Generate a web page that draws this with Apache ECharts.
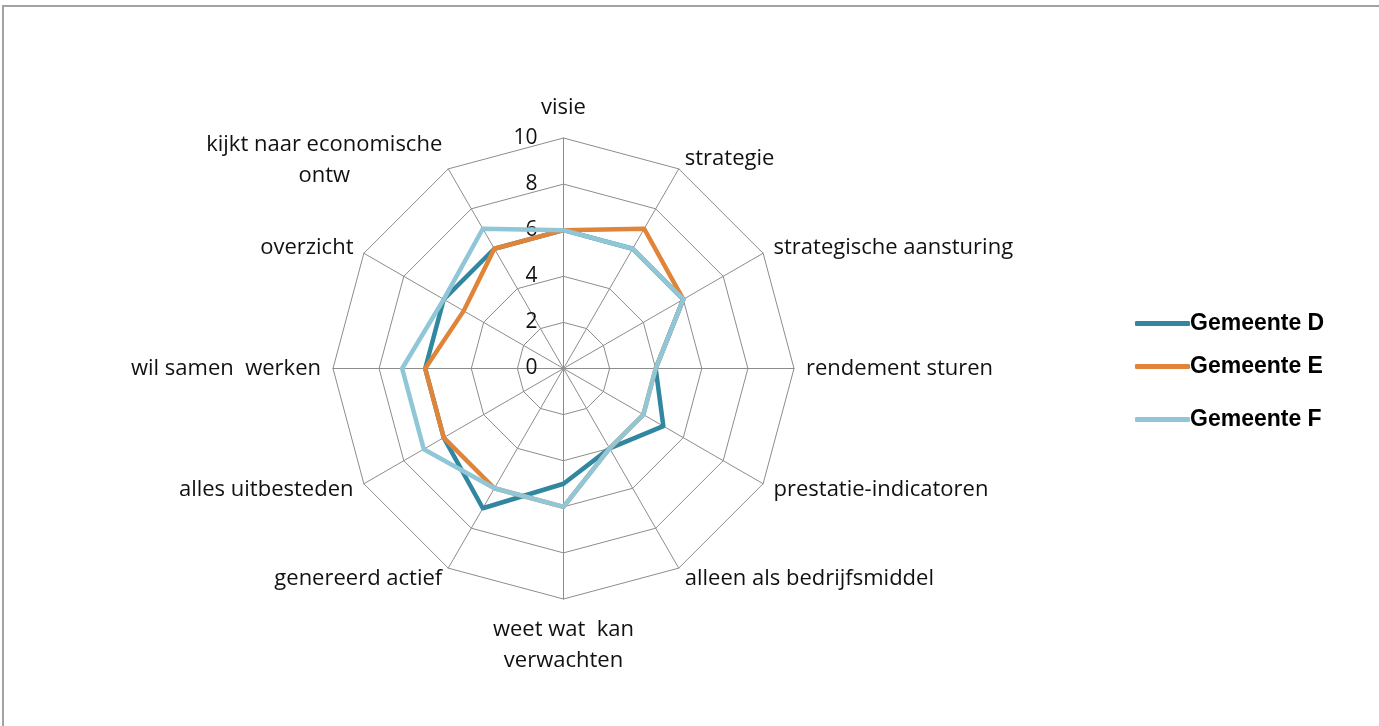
<!DOCTYPE html>
<html>
<head>
<meta charset="utf-8">
<script src="https://cdn.jsdelivr.net/npm/echarts@6/dist/echarts.min.js"></script>
<style>
html,body{margin:0;padding:0;background:#fff;width:1379px;height:726px;overflow:hidden;}
#frame{position:absolute;left:2px;top:5px;width:1400px;height:800px;border-top:2px solid #a3a3a3;border-left:2px solid #a3a3a3;}
#chart{position:absolute;left:0;top:0;width:1379px;height:726px;}
</style>
</head>
<body>
<div id="frame"></div>
<div id="chart"></div>
<script>
// Categories clockwise from the top (as in the reference)
const categories = [
  'visie', 'strategie', 'strategische aansturing', 'rendement sturen',
  'prestatie-indicatoren', 'alleen als bedrijfsmiddel', 'weet wat  kan\nverwachten',
  'genereerd actief', 'alles uitbesteden', 'wil samen  werken', 'overzicht',
  'kijkt naar economische\nontw'
];
const seriesNames = ['Gemeente D', 'Gemeente E', 'Gemeente F'];
const gemeenteD = [6, 6, 6, 4, 5, 4, 5, 7, 6, 6, 6, 6];
const gemeenteE = [6, 7, 6, 4, 4, 4, 6, 6, 6, 6, 5, 6];
const gemeenteF = [6, 6, 6, 4, 4, 4, 6, 6, 7, 7, 6, 7];
const axisMax = 10;
const tickInterval = 2;

const colors = ['#31879f', '#e0843a', '#8fc6d8'];
const labelFont = 'Open Sans';

// ECharts radar runs counter-clockwise; reorder so categories appear clockwise
function cw(arr) { return [arr[0]].concat(arr.slice(1).reverse()); }

const indicator = cw(categories).map(function (name, i) {
  const ind = { name: name, min: 0, max: axisMax };
  if (i === 0) {
    ind.nameGap = 15;
    ind.axisLabel = {
      show: true, color: '#111', fontFamily: labelFont, fontSize: 21,
      margin: 26, padding: [6, 0, 0, 0], showMinLabel: true, showMaxLabel: true
    };
  }
  if (name.indexOf('weet wat') === 0) { ind.nameGap = 15; }
  if (name.indexOf('kijkt') === 0) {
    ind.nameGap = 12;
    ind.nameTextStyle = { verticalAlign: 'middle', padding: [0, 0, -4, 0] };
  }
  return ind;
});

const allData = [gemeenteD, gemeenteE, gemeenteF];

const chart = echarts.init(document.getElementById('chart'), null, { renderer: 'canvas' });
chart.setOption({
  animation: false,
  color: colors,
  legend: seriesNames.map(function (n, i) {
    return {
      data: [n], orient: 'vertical', left: 1130, top: [307, 350, 403][i],
      icon: 'roundRect', itemWidth: 55, itemHeight: 5, itemGap: 0,
      textStyle: { fontFamily: 'Liberation Sans', fontWeight: 'bold', fontSize: 23, color: '#000', padding: [0, 0, 0, -5] },
      selectedMode: false
    };
  }),
  radar: {
    center: [563.5, 368.5],
    radius: 230.5,
    startAngle: 90,
    splitNumber: axisMax / tickInterval,
    shape: 'polygon',
    indicator: indicator,
    axisName: {
      color: '#111', fontFamily: labelFont, fontSize: 22, lineHeight: 31,
      formatter: function (name) {
        if (name.indexOf('\n') < 0) return name;
        return name.split('\n').map(function (s) { return '{c|' + s + '}'; }).join('\n');
      },
      rich: { c: { align: 'center', color: '#111', fontFamily: labelFont, fontSize: 22, lineHeight: 31 } }
    },
    nameGap: 12,
    axisLabel: { show: false },
    axisLine: { lineStyle: { color: '#8c8c8c', width: 1 } },
    splitLine: { lineStyle: { color: '#8c8c8c', width: 1 } },
    splitArea: { show: false },
    axisTick: { show: false }
  },
  series: [{
    type: 'radar',
    symbol: 'none',
    data: allData.map(function (vals, i) {
      return {
        name: seriesNames[i],
        value: cw(vals),
        lineStyle: { color: colors[i], width: 4.5 },
        itemStyle: { color: colors[i] }
      };
    })
  }]
});
</script>
</body>
</html>
